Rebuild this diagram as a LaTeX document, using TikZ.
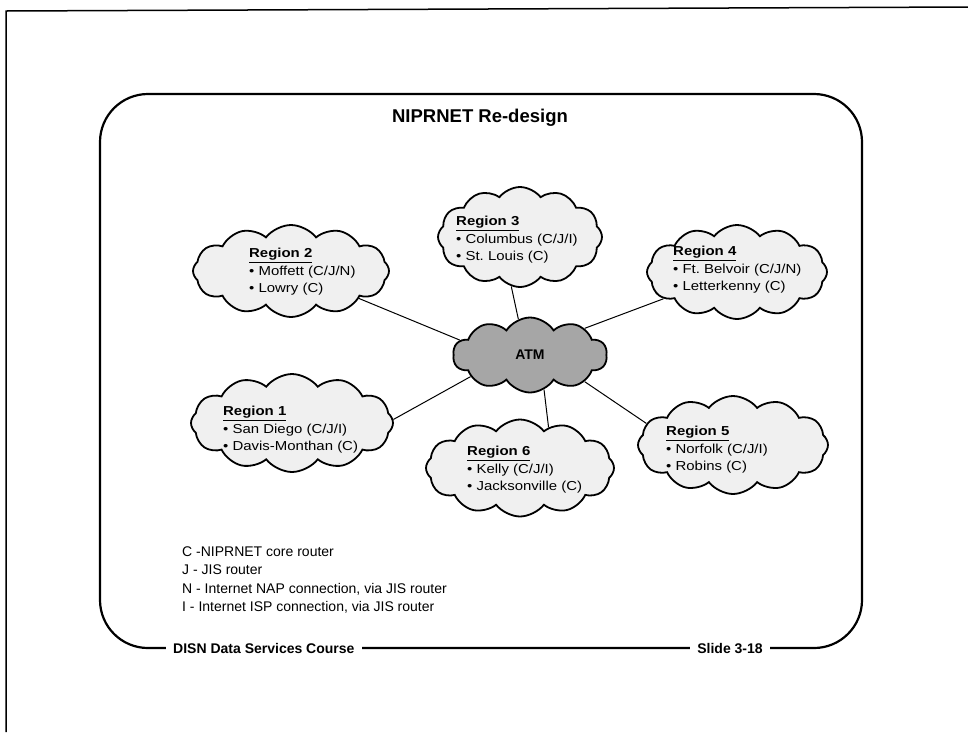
\documentclass[tikz,border=0pt]{standalone}
\usepackage{fontspec}
\setmainfont{Liberation Sans}
\newfontfamily\regionfont[FakeStretch=1.15]{Liberation Sans}
\usetikzlibrary{shapes.symbols,positioning}

\begin{document}
\begin{tikzpicture}[x=1pt,y=-1pt,inner sep=0pt]
\tikzstyle{region}=[cloud, cloud puffs=12, cloud puff arc=105, cloud ignores aspect, draw=black, line width=1.8pt, fill=black!6]
\tikzstyle{hub}=[region, cloud puffs=10, cloud puff arc=115, fill=black!35, font=\bfseries\fontsize{14}{16}\selectfont]
\tikzstyle{sites}=[anchor=west, align=left, font=\regionfont\fontsize{13}{17.5}\selectfont]
\tikzstyle{link}=[line width=1pt]
\tikzstyle{foot}=[fill=white, inner xsep=7pt, inner ysep=2pt, font=\bfseries\fontsize{14}{16}\selectfont]
\useasboundingbox (0,0) rectangle (968,732);
% page edge and slide frame
\draw[line width=1.5pt] (6,732) -- (6,11) -- (968,7);
\draw[line width=2.2pt, rounded corners=48pt] (100,94) rectangle (862,648);
\node (title) at (480,118) {\bfseries\fontsize{18.5}{22}\selectfont NIPRNET Re-design};
% clouds
\node[hub, minimum width=154pt, minimum height=75pt] (atm) at (530,355) {ATM};
\node[region, minimum width=196pt, minimum height=92pt] (r2) at (291,271) {};
\node[region, minimum width=164pt, minimum height=100pt] (r3) at (520,237) {};
\node[region, minimum width=180pt, minimum height=94pt] (r4) at (737,272) {};
\node[region, minimum width=202pt, minimum height=98pt] (r1) at (292,423) {};
\node[region, minimum width=188pt, minimum height=97pt] (r6) at (520,468) {};
\node[region, minimum width=190pt, minimum height=98pt] (r5) at (733,445) {};
\node[sites] (s2) at (249,272) {\textbf{\underline{Region 2}}\\\textbullet\ Moffett (C/J/N)\\\textbullet\ Lowry (C)};
\node[sites] (s3) at (456,240) {\textbf{\underline{Region 3}}\\\textbullet\ Columbus (C/J/I)\\\textbullet\ St.\ Louis (C)};
\node[sites] (s4) at (673,270) {\textbf{\underline{Region 4}}\\\textbullet\ Ft.\ Belvoir (C/J/N)\\\textbullet\ Letterkenny (C)};
\node[sites] (s1) at (223,430) {\textbf{\underline{Region 1}}\\\textbullet\ San Diego (C/J/I)\\\textbullet\ Davis-Monthan (C)};
\node[sites] (s6) at (467,470) {\textbf{\underline{Region 6}}\\\textbullet\ Kelly (C/J/I)\\\textbullet\ Jacksonville (C)};
\node[sites] (s5) at (666,450) {\textbf{\underline{Region 5}}\\\textbullet\ Norfolk (C/J/I)\\\textbullet\ Robins (C)};
% links to the ATM core
\draw[link] (r2.-22) -- (atm.168);
\draw[link] (r3.-100) -- (atm.108);
\draw[link] (r4.200) -- (atm.26);
\draw[link] (r1.2) -- (atm.200);
\draw[link] (r6.55) -- (atm.-68);
\draw[link] (r5.166) -- (atm.-26);
% legend and footer
\node[anchor=west, align=left, font=\fontsize{14}{18.3}\selectfont] (key) at (182,580) {C -NIPRNET core router\\J - JIS router\\N - Internet NAP connection, via JIS router\\I - Internet ISP connection, via JIS router};
\node[foot, anchor=west] (course) at (166,648) {DISN Data Services Course};
\node[foot] (slide) at (730,648) {Slide 3-18};
\end{tikzpicture}
\end{document}
